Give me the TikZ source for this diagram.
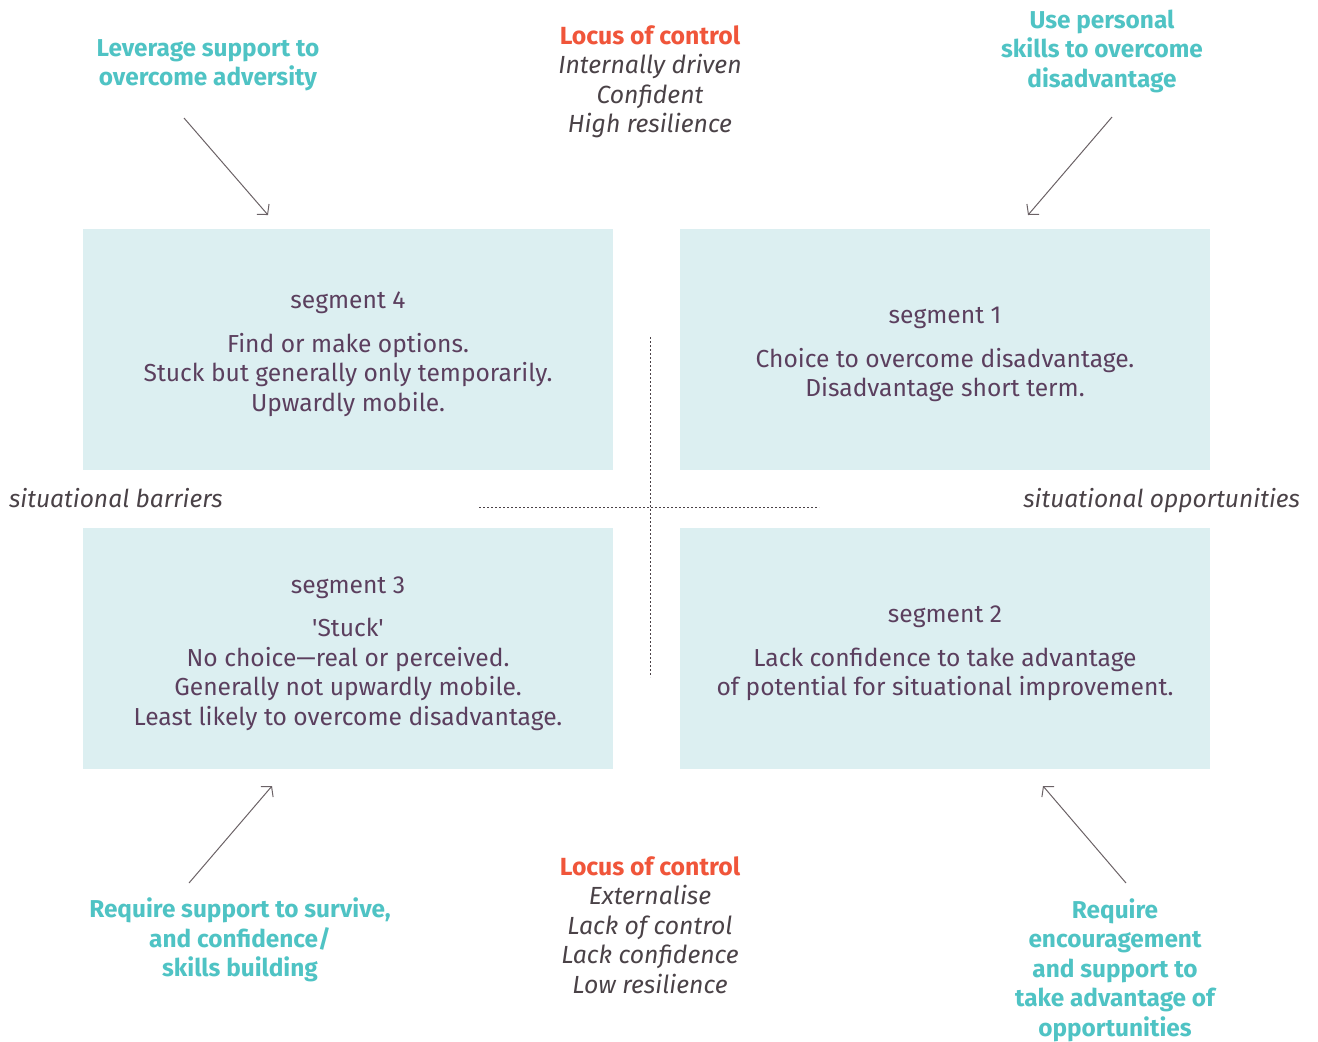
\documentclass[tikz,border=0pt]{standalone}
\usepackage{fontspec}
\setmainfont{Fira Sans}
\usetikzlibrary{arrows.meta}
\definecolor{boxblue}{HTML}{DCEFF1}
\definecolor{segtext}{HTML}{5B3F5E}
\definecolor{tealtext}{HTML}{4FC3C4}
\definecolor{locusred}{HTML}{F0553A}
\definecolor{greytext}{HTML}{4A4247}
\definecolor{arrowgrey}{HTML}{6B6266}
\begin{document}
\begin{tikzpicture}[x=0.5pt,y=-0.5pt,
  seg/.style={fill=boxblue,minimum width=265pt,minimum height=120.5pt,inner sep=0pt},
  segtxt/.style={align=center,text=segtext,font=\fontsize{12.3}{14.75}\selectfont},
  locus/.style={align=center,text=greytext,font=\fontsize{12.4}{14.75}\selectfont\itshape},
  hint/.style={align=center,text=tealtext,font=\fontsize{12.2}{14.75}\selectfont\bfseries},
  axis/.style={text=greytext,font=\fontsize{12.3}{14.75}\selectfont\itshape},
  every edge/.append style={draw=arrowgrey,line width=0.5pt,-{Straight Barb[length=3.5pt,width=8pt]}},
  guide/.style={draw=greytext,line width=0.5pt,dash pattern=on 0.8pt off 1.2pt}]
  \useasboundingbox (0,0) rectangle (1318,1041);
  \node[seg] (s4) at (348,349.5) {};
  \node[seg] (s1) at (945,349.5) {};
  \node[seg] (s3) at (348,648.5) {};
  \node[seg] (s2) at (945,648.5) {};
  \node[segtxt] (t4) at ([yshift=-2.5pt]s4) {segment 4\\[7pt]Find or make options.\\Stuck but generally only temporarily.\\Upwardly mobile.};
  \node[segtxt] (t1) at ([yshift=-2.5pt]s1) {segment 1\\[7pt]Choice to overcome disadvantage.\\Disadvantage short term.};
  \node[segtxt] (t3) at ([yshift=-2.5pt]s3) {segment 3\\[7pt]\textquotesingle Stuck\textquotesingle\\No choice---real or perceived.\\Generally not upwardly mobile.\\Least likely to overcome disadvantage.};
  \node[segtxt] (t2) at ([yshift=-2.5pt]s2) {segment 2\\[7pt]Lack confidence to take advantage\\of potential for situational improvement.};
  \draw[guide] (650,337) -- (650,677);
  \draw[guide] (479,507) -- (819,507);
  \node[locus] (top) at (650,82) {\textcolor{locusred}{\upshape\bfseries Locus of control}\\Internally driven\\Confident\\High resilience};
  \node[locus] (bottom) at (650,925) {\textcolor{locusred}{\upshape\bfseries Locus of control}\\Externalise\\Lack of control\\Lack confidence\\Low resilience};
  \node[axis,anchor=base west] (barriers) at (2,507) {situational barriers};
  \node[axis,anchor=base east] (opps) at (1307,507) {situational opportunities};
  \node[hint] (h4) at (208,65) {Leverage support to\\overcome adversity};
  \node[hint] (h1) at (1102,51) {Use personal\\skills to overcome\\disadvantage};
  \node[hint] (h3) at (240,940) {Require support to survive,\\and confidence/\\skills building};
  \node[hint] (h2) at (1115,970) {Require\\encouragement\\and support to\\take advantage of\\opportunities};
  \coordinate (a4s) at (184,118); \coordinate (a4e) at (268,215);
  \coordinate (a1s) at (1112,117); \coordinate (a1e) at (1028,215);
  \coordinate (a3s) at (189,883); \coordinate (a3e) at (272,786);
  \coordinate (a2s) at (1126,883); \coordinate (a2e) at (1043,786);
  \path (a4s) edge (a4e)
        (a1s) edge (a1e)
        (a3s) edge (a3e)
        (a2s) edge (a2e);
\end{tikzpicture}
\end{document}
